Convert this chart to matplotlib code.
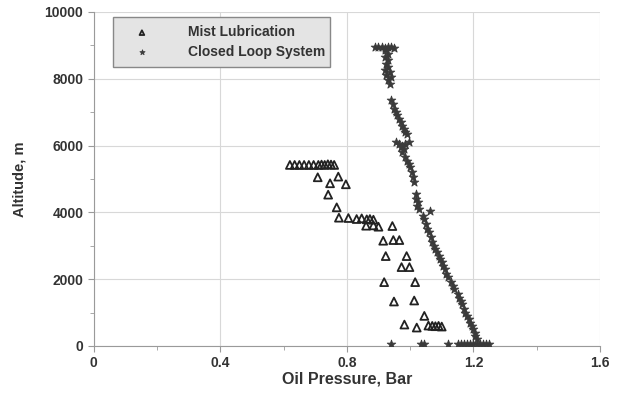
import matplotlib
matplotlib.use('Agg')
import matplotlib.pyplot as plt
from matplotlib.ticker import MultipleLocator

# Mist lubrication (triangles): oil pressure [bar], altitude [m]
mist_p = [0.62, 0.635, 0.65, 0.665, 0.68, 0.695, 0.71, 0.72, 0.73, 0.74, 0.75, 0.76,
          0.708, 0.773, 0.747, 0.797, 0.741, 0.768,
          0.775, 0.805, 0.831, 0.847, 0.863, 0.873, 0.884, 0.861, 0.884, 0.90, 0.944,
          0.915, 0.947, 0.966, 0.923, 0.989, 0.973, 0.998, 0.918, 1.016,
          0.949, 1.013, 1.045, 0.982, 1.021, 1.058, 1.07, 1.08, 1.09, 1.10]
mist_alt = [5420, 5420, 5420, 5420, 5420, 5420, 5420, 5430, 5420, 5440, 5430, 5420,
            5050, 5070, 4870, 4840, 4530, 4150,
            3840, 3830, 3800, 3820, 3790, 3800, 3780, 3600, 3610, 3570, 3590,
            3150, 3170, 3170, 2690, 2690, 2360, 2360, 1910, 1910,
            1330, 1360, 900, 640, 550, 610, 600, 590, 600, 580]

# Closed loop system (stars)
loop_p = [0.89, 0.90, 0.91, 0.92, 0.93, 0.94, 0.95, 0.92, 0.93, 0.92, 0.93, 0.925,
          0.93, 0.92, 0.935, 0.925, 0.94, 0.93, 0.935,
          0.94, 0.945, 0.95, 0.955, 0.96, 0.965, 0.97, 0.975, 0.98, 0.985, 0.99,
          0.955, 0.965, 0.975, 0.985, 0.995, 0.97, 0.98, 0.975,
          0.985, 0.99, 0.995, 1.0, 1.005, 1.01, 1.012,
          1.018, 1.02, 1.025, 1.022, 1.028, 1.062,
          1.04, 1.045, 1.05, 1.055, 1.06, 1.065, 1.07, 1.075, 1.08, 1.085, 1.09,
          1.095, 1.10, 1.105, 1.11, 1.115, 1.12, 1.13, 1.135, 1.14, 1.15, 1.155,
          1.16, 1.165, 1.17, 1.175, 1.18, 1.185, 1.19, 1.195, 1.20, 1.205, 1.205, 1.21,
          0.94, 1.035, 1.045, 1.12, 1.15, 1.16, 1.17, 1.18, 1.19, 1.20, 1.21,
          1.22, 1.23, 1.24, 1.25]
loop_alt = [8950, 8940, 8960, 8930, 8950, 8940, 8920, 8850, 8750, 8650, 8550, 8450,
            8350, 8250, 8200, 8100, 8050, 7950, 7850,
            7350, 7250, 7100, 7000, 6900, 6800, 6700, 6600, 6500, 6400, 6350,
            6100, 6050, 6000, 6050, 6100, 5950, 5900, 5800,
            5650, 5550, 5450, 5350, 5200, 5050, 4900,
            4550, 4400, 4300, 4200, 4100, 4050,
            3900, 3800, 3650, 3500, 3400, 3250, 3100, 3000, 2900, 2800, 2700,
            2600, 2500, 2400, 2300, 2150, 2050, 1900, 1800, 1700, 1550, 1450,
            1350, 1250, 1100, 1000, 900, 800, 700, 600, 500, 400, 300, 200,
            50, 50, 50, 50, 50, 50, 50, 50, 50, 50, 50,
            50, 50, 50, 50]

plt.rcParams['font.family'] = ['Liberation Sans', 'DejaVu Sans']

fig = plt.figure(figsize=(6.21, 3.99), dpi=100)
ax = fig.add_axes([0.151, 0.133, 0.815, 0.837])

ax.scatter(mist_p, mist_alt, marker='^', s=32, facecolors='none',
           edgecolors='#222222', linewidths=1.3, label='Mist Lubrication', zorder=3)
ax.scatter(loop_p, loop_alt, marker='*', s=42, color='#3a3a3a',
           linewidths=0.6, label='Closed Loop System', zorder=3)

ax.set_xlim(0, 1.6)
ax.set_ylim(0, 10000)
ax.xaxis.set_minor_locator(MultipleLocator(0.2))
ax.yaxis.set_major_locator(MultipleLocator(2000))
ax.yaxis.set_minor_locator(MultipleLocator(1000))
ax.set_xticks([0, 0.4, 0.8, 1.2, 1.6])
ax.set_xticklabels(['0', '0.4', '0.8', '1.2', '1.6'])

ax.grid(True, which='major', color='#d8d8d8', linewidth=0.8)
ax.set_axisbelow(True)
for side in ['top', 'right']:
    ax.spines[side].set_visible(False)
for side in ['left', 'bottom']:
    ax.spines[side].set_color('#9a9a9a')
ax.tick_params(which='both', direction='out', colors='#9a9a9a', labelcolor='#333333',
               labelsize=10)
ax.tick_params(which='major', length=4)
ax.tick_params(which='minor', length=3)
for lab in ax.get_xticklabels() + ax.get_yticklabels():
    lab.set_fontweight('bold')

ax.set_xlabel('Oil Pressure, Bar', fontsize=11.5, fontweight='bold', color='#333333',
              labelpad=1)
ax.set_ylabel('Altitude, m', fontsize=10.5, fontweight='bold', color='#333333',
              labelpad=13)

leg = ax.legend(loc='upper left', bbox_to_anchor=(0.0375, 0.838, 0.4285, 0.147),
                mode='expand', borderaxespad=0, fancybox=False, frameon=True,
                prop={'weight': 'bold', 'size': 10}, handletextpad=1.8,
                borderpad=0.6, labelspacing=0.4, handlelength=3.0, markerscale=0.6)
leg.get_frame().set_facecolor('#e4e4e4')
leg.get_frame().set_edgecolor('#888888')
leg.get_frame().set_alpha(1)
for t in leg.get_texts():
    t.set_color('#333333')

fig.savefig('out.png', dpi=100)
